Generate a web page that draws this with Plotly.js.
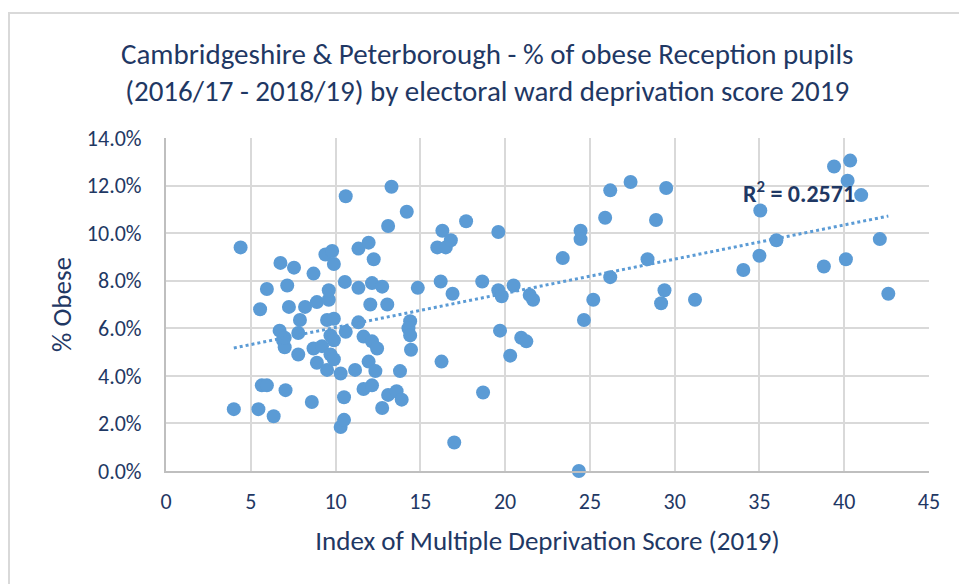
<!DOCTYPE html>
<html>
<head>
<meta charset="utf-8">
<script src="https://cdn.plot.ly/plotly-3.0.1.min.js"></script>
<style>
  html, body { margin: 0; padding: 0; background: #ffffff; }
  #chart { position: absolute; left: 0; top: 0; width: 959px; height: 584px; }
  #frame { position: absolute; left: 8px; top: 12px; width: 1000px; height: 1000px;
           border: 2px solid #D9D9D9; pointer-events: none; }
</style>
</head>
<body>
<div id="chart"></div>
<div id="frame"></div>
<script>
// IMD score 2019 (x) and % obese Reception pupils (y)
const imdScore = [
  4.0, 4.4, 5.45, 5.55, 5.65, 5.95, 5.95, 6.35, 6.75, 6.7,
  6.9, 7.0, 7.0, 7.05, 7.15, 7.25, 7.55, 7.8, 7.8, 7.9,
  8.2, 8.6, 8.7, 8.7, 8.9, 8.9, 9.2, 9.4, 9.5, 9.5,
  9.6, 9.6, 9.7, 9.7, 9.8, 9.9, 9.9, 9.9, 9.9, 10.3,
  10.3, 10.5, 10.5, 10.55, 10.6, 10.6, 11.15, 11.35, 11.35, 11.35,
  11.65, 11.65, 11.95, 11.95, 12.05, 12.15, 12.15, 12.15, 12.25, 12.35,
  12.45, 12.75, 12.75, 13.05, 13.1, 13.1, 13.3, 13.6, 13.8, 13.9,
  14.2, 14.4, 14.3, 14.4, 14.45, 14.85, 16.0, 16.2, 16.25, 16.3,
  16.5, 16.8, 16.9, 17.0, 17.7, 18.65, 18.7, 19.6, 19.6, 19.7,
  19.8, 20.3, 20.5, 20.95, 21.25, 21.45, 21.65, 23.4, 24.35, 24.45,
  24.45, 24.65, 25.2, 25.9, 26.2, 26.2, 27.4, 28.4, 28.9, 29.2,
  29.4, 29.5, 31.2, 34.05, 35.0, 35.05, 36.0, 38.8, 39.4, 40.1,
  40.2, 40.35, 41.0, 42.1, 42.6
];
const pctObese = [
  2.6, 9.4, 2.6, 6.8, 3.6, 3.6, 7.65, 2.3, 8.75, 5.9,
  5.5, 5.2, 5.6, 3.4, 7.8, 6.9, 8.55, 5.8, 4.9, 6.35,
  6.9, 2.9, 8.3, 5.15, 7.1, 4.55, 5.25, 9.1, 6.35, 4.25,
  7.2, 7.6, 5.7, 4.9, 9.25, 8.7, 6.4, 5.5, 4.7, 4.1,
  1.85, 2.15, 3.1, 7.95, 11.55, 5.85, 4.25, 9.35, 7.7, 6.25,
  5.65, 3.45, 9.6, 4.6, 7.0, 7.9, 5.45, 3.6, 8.9, 4.2,
  5.15, 7.75, 2.65, 7.0, 10.3, 3.2, 11.95, 3.35, 4.2, 3.0,
  10.9, 6.3, 6.0, 5.7, 5.1, 7.7, 9.4, 7.97, 4.6, 10.1,
  9.4, 9.7, 7.45, 1.2, 10.5, 7.97, 3.3, 10.05, 7.6, 5.9,
  7.35, 4.85, 7.8, 5.6, 5.45, 7.4, 7.2, 8.95, 0.0, 10.1,
  9.75, 6.35, 7.2, 10.65, 11.8, 8.15, 12.15, 8.9, 10.55, 7.05,
  7.6, 11.9, 7.2, 8.45, 9.05, 10.95, 9.7, 8.6, 12.8, 8.9,
  12.2, 13.05, 11.6, 9.75, 7.45
];
const xTicks = [0, 5, 10, 15, 20, 25, 30, 35, 40, 45];
const yTicks = [0, 2, 4, 6, 8, 10, 12, 14];
const yTickText = ["0.0%", "2.0%", "4.0%", "6.0%", "8.0%", "10.0%", "12.0%", "14.0%"];
const titleLines = [
  "Cambridgeshire & Peterborough - % of obese Reception pupils",
  "(2016/17 - 2018/19) by electoral ward deprivation score 2019"
];
const rSquaredLabel = "R<sup>2</sup> = 0.2571";

// linear least-squares trendline computed from the data
const n = imdScore.length;
const mx = imdScore.reduce((a, b) => a + b, 0) / n;
const my = pctObese.reduce((a, b) => a + b, 0) / n;
let sxy = 0, sxx = 0;
for (let i = 0; i < n; i++) {
  sxy += (imdScore[i] - mx) * (pctObese[i] - my);
  sxx += (imdScore[i] - mx) ** 2;
}
const slope = sxy / sxx;
const intercept = my - slope * mx;
const xMin = Math.min(...imdScore), xMax = Math.max(...imdScore);
const trendX = [xMin, xMax];
const trendY = trendX.map(v => intercept + slope * v);

const FONT = "Carlito, 'Liberation Sans Narrow', 'Liberation Sans', sans-serif";
const NAVY = "#1F3864";
const BLUE = "#5B9BD5";

const traces = [
  {
    type: "scatter", mode: "markers", x: imdScore, y: pctObese,
    marker: { size: 14, color: BLUE, line: { width: 0 } },
    cliponaxis: false, hoverinfo: "x+y", showlegend: false
  },
  {
    type: "scatter", mode: "lines", x: trendX, y: trendY,
    line: { color: BLUE, width: 3, dash: "dot" },
    cliponaxis: false, hoverinfo: "skip", showlegend: false
  }
];

const layout = {
  width: 959, height: 584,
  margin: { l: 166, r: 30, t: 138, b: 113 },
  paper_bgcolor: "rgba(0,0,0,0)", plot_bgcolor: "#ffffff",
  font: { family: FONT, color: NAVY },
  title: {
    text: titleLines.join("<br>"),
    font: { family: FONT, size: 29, color: NAVY },
    xref: "container", x: 0.508, xanchor: "center",
    yref: "container", y: 0.891, yanchor: "middle"
  },
  xaxis: {
    range: [0, 45], tickmode: "array", tickvals: xTicks,
    showgrid: true, gridcolor: "#D9D9D9", gridwidth: 2,
    zeroline: false, showline: true, linecolor: "#BFBFBF", linewidth: 2,
    ticks: "", ticklabelstandoff: 10,
    tickfont: { family: FONT, size: 22, color: NAVY },
    title: { text: "Index of Multiple Deprivation Score (2019)",
             font: { family: FONT, size: 27, color: NAVY }, standoff: 17 }
  },
  yaxis: {
    range: [0, 14], tickmode: "array", tickvals: yTicks, ticktext: yTickText,
    showgrid: true, gridcolor: "#D9D9D9", gridwidth: 2,
    zeroline: false, showline: true, linecolor: "#BFBFBF", linewidth: 2,
    ticks: "", ticklabelstandoff: 18,
    tickfont: { family: FONT, size: 22, color: NAVY },
    title: { text: "% Obese", font: { family: FONT, size: 27, color: NAVY }, standoff: 7 }
  },
  annotations: [
    {
      text: rSquaredLabel, showarrow: false,
      xref: "paper", yref: "paper", x: 0.83, y: 0.838,
      xanchor: "center", yanchor: "middle",
      font: { family: FONT, size: 24, color: NAVY, weight: "bold" }
    }
  ]
};

Plotly.newPlot("chart", traces, layout, { displayModeBar: false, staticPlot: true });
</script>
</body>
</html>
